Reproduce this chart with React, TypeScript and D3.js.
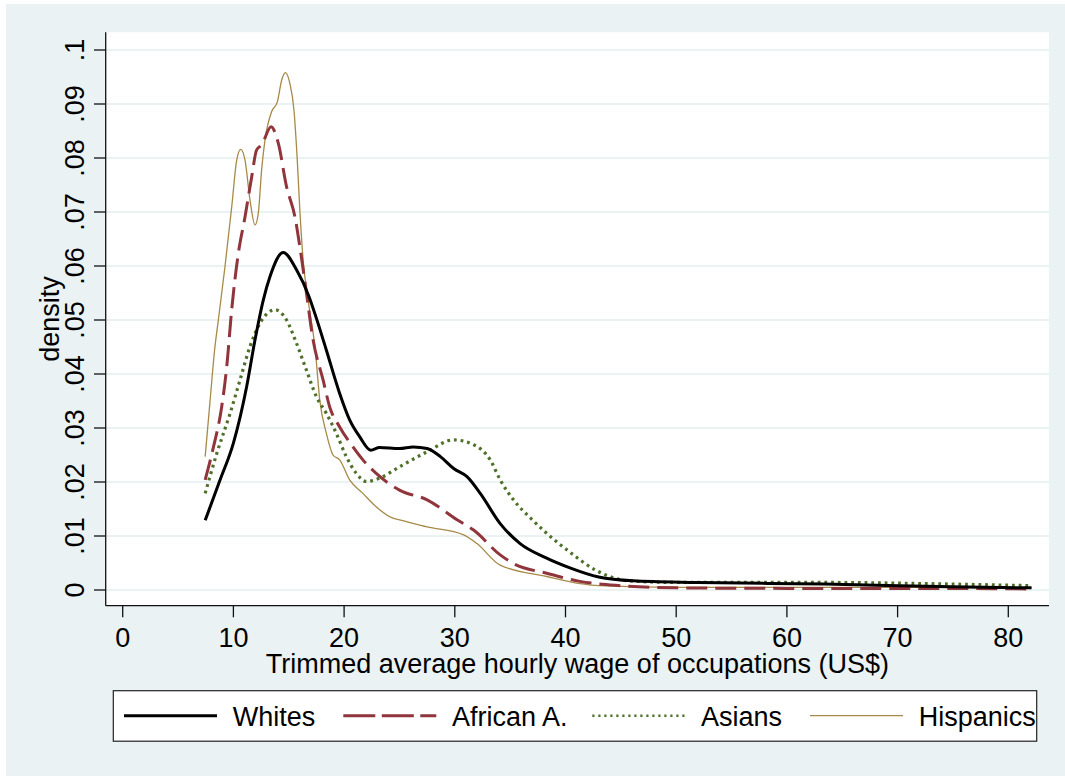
import React from "react";
import * as d3 from "d3";

// Kernel density estimates of the trimmed average hourly wage (US$) by group.
// Each point is [wage, density].
const whites: [number, number][] = [
  [7.45, 0.0129], [8.8, 0.0204], [10.0, 0.0272], [11.2, 0.0377], [11.95, 0.0463],
  [12.7, 0.0537], [13.3, 0.058], [14.5, 0.0625], [15.7, 0.0593], [16.8, 0.0545],
  [17.5, 0.0503], [18.4, 0.0444], [19.6, 0.0364], [20.5, 0.0315], [21.4, 0.0284],
  [22.4, 0.0259], [23.2, 0.0264], [25.0, 0.0262], [26.25, 0.0265], [27.5, 0.0262],
  [28.7, 0.0247], [29.9, 0.0225], [31.1, 0.021], [32.3, 0.0179], [34.1, 0.0123],
  [35.9, 0.0086], [38.2, 0.006], [40.4, 0.0041], [43.0, 0.0024], [46.1, 0.0017],
  [51.9, 0.0014], [63.4, 0.0011], [74.9, 0.0006], [82.1, 0.0004],
];

const africanAmericans: [number, number][] = [
  [7.45, 0.0204], [8.2, 0.0265], [8.94, 0.0339], [9.4, 0.0414], [9.85, 0.052],
  [10.45, 0.0624], [11.05, 0.0691], [11.65, 0.0765], [12.1, 0.0815], [12.55, 0.0824],
  [13.4, 0.0858], [14.06, 0.0827], [14.8, 0.0747], [15.56, 0.0691], [16.0, 0.0636],
  [16.5, 0.0565], [17.2, 0.0463], [18.1, 0.0389], [18.7, 0.0339], [19.6, 0.0302],
  [20.8, 0.0265], [21.7, 0.0241], [22.9, 0.0216], [25.0, 0.0185], [27.5, 0.0167],
  [30.2, 0.013], [31.7, 0.0111], [34.1, 0.0065], [35.3, 0.0049], [38.3, 0.0031],
  [41.3, 0.0016], [45.0, 0.0008], [50.0, 0.0004], [60.0, 0.0003], [70.0, 0.0003],
  [82.1, 0.0002],
];

const asians: [number, number][] = [
  [7.45, 0.0179], [8.5, 0.0253], [9.7, 0.0327], [10.6, 0.0389], [11.5, 0.0451],
  [12.4, 0.0494], [13.76, 0.0519], [14.8, 0.05], [15.7, 0.0457], [16.6, 0.0407],
  [17.5, 0.0358], [18.4, 0.0327], [19.3, 0.029], [20.2, 0.0247], [21.1, 0.0216],
  [22.0, 0.0201], [23.2, 0.0207], [25.0, 0.0228], [27.5, 0.0256], [29.9, 0.0278],
  [31.7, 0.0269], [33.2, 0.0241], [34.1, 0.0204], [35.3, 0.0167], [37.0, 0.013],
  [38.3, 0.0105], [40.4, 0.007], [42.7, 0.0037], [45.7, 0.0017], [50.0, 0.0014],
  [63.4, 0.0014], [74.8, 0.0011], [82.1, 0.0008],
];

const hispanics: [number, number][] = [
  [7.45, 0.0247], [7.9, 0.0352], [8.3, 0.0444], [8.64, 0.05], [9.24, 0.0599],
  [9.85, 0.071], [10.3, 0.0796], [10.66, 0.0816], [11.05, 0.0796], [11.5, 0.0722],
  [11.95, 0.0676], [12.25, 0.0698], [12.55, 0.0778], [12.85, 0.0833], [13.46, 0.0886],
  [13.97, 0.0904], [14.36, 0.0944], [14.69, 0.0958], [15.1, 0.0938], [15.47, 0.0889],
  [15.77, 0.0796], [16.0, 0.0704], [16.3, 0.0611], [16.75, 0.0537], [17.4, 0.0444],
  [17.8, 0.0352], [18.4, 0.029], [19.0, 0.025], [19.6, 0.0241], [20.5, 0.0204],
  [21.7, 0.0179], [22.9, 0.0154], [24.4, 0.0133], [25.0, 0.013], [27.5, 0.0117],
  [30.8, 0.0102], [32.0, 0.0086], [34.1, 0.0046], [38.3, 0.0025], [41.3, 0.0012],
  [43.0, 0.0008], [50.0, 0.0005], [60.0, 0.0005], [70.0, 0.0005], [82.1, 0.0004],
];

const groupNames = ["Whites", "African A.", "Asians", "Hispanics"];
const xTicks = [0, 10, 20, 30, 40, 50, 60, 70, 80];
const yTicks = [0, 0.01, 0.02, 0.03, 0.04, 0.05, 0.06, 0.07, 0.08, 0.09, 0.1];
const xTitle = "Trimmed average hourly wage of occupations (US$)";
const yTitle = "density";

type LineStyle = { color: string; width: number; dash?: string; legendDash?: string; legendWidth?: number };

const styles: LineStyle[] = [
  { color: "#000000", width: 3 },
  { color: "#90353B", width: 3, dash: "21 8", legendDash: "32 6.5" },
  { color: "#4F7029", width: 3.2, dash: "2.8 3.9", legendDash: "2.2 3.8", legendWidth: 2.4 },
  { color: "#A68A47", width: 1.3 },
];

const W = 1065;
const H = 776;
const plot = { left: 105.7, top: 32.3, right: 1049, bottom: 605.7 };
const FONT = "'Liberation Sans', Arial, Helvetica, sans-serif";
const FS = 27;

export default function App() {
  const x = d3.scaleLinear().domain([0, 80]).range([122.7, 1008.3]);
  const y = d3.scaleLinear().domain([0, 0.1]).range([590, 50]);

  const line = d3
    .line<[number, number]>()
    .x((d) => x(d[0]))
    .y((d) => y(d[1]))
    .curve(d3.curveMonotoneX);

  const series = [whites, africanAmericans, asians, hispanics];

  // legend row layout: key start positions, key length, gap to label
  const legendKeyX = [124, 343.3, 592.3, 810];
  const keyLen = 93;
  const labelGap = 108.7;
  const legendBox = { x: 113.3, y: 690.7, w: 923.4, h: 50.5 };
  const legendMidY = 715.7;

  return (
    <svg
      width={W}
      height={H}
      viewBox={`0 0 ${W} ${H}`}
      style={{ position: "absolute", left: 0, top: 0, display: "block" }}
      fontFamily={FONT}
    >
      <rect x={0} y={0} width={W} height={H} fill="#ffffff" />
      <rect x={6} y={4} width={W - 6} height={H - 4} fill="#EAF2F3" />
      <rect
        x={plot.left}
        y={plot.top}
        width={plot.right - plot.left}
        height={plot.bottom - plot.top}
        fill="#ffffff"
      />

      {/* horizontal grid */}
      {yTicks.map((t) => (
        <line
          key={`g${t}`}
          x1={plot.left}
          x2={plot.right}
          y1={y(t)}
          y2={y(t)}
          stroke="#EAF2F3"
          strokeWidth={1.8}
        />
      ))}

      {/* density curves, drawn back to front */}
      {[3, 2, 1, 0].map((i) => (
        <path
          key={groupNames[i]}
          d={line(series[i]) ?? ""}
          fill="none"
          stroke={styles[i].color}
          strokeWidth={styles[i].width}
          strokeDasharray={styles[i].dash}
          strokeLinejoin="round"
        />
      ))}

      {/* axes */}
      <line x1={plot.left} x2={plot.left} y1={plot.top} y2={plot.bottom} stroke="#111" strokeWidth={1.3} />
      <line x1={plot.left} x2={plot.right} y1={plot.bottom} y2={plot.bottom} stroke="#111" strokeWidth={1.3} />

      {yTicks.map((t) => (
        <g key={`yt${t}`}>
          <line x1={94} x2={plot.left} y1={y(t)} y2={y(t)} stroke="#111" strokeWidth={1.3} />
          <text
            transform={`translate(83.5,${y(t)}) rotate(-90)`}
            textAnchor="middle"
            fontSize={FS}
            fill="#000"
          >
            {d3.format("~g")(t).replace(/^0\./, ".")}
          </text>
        </g>
      ))}

      {xTicks.map((t) => (
        <g key={`xt${t}`}>
          <line x1={x(t)} x2={x(t)} y1={plot.bottom} y2={617.3} stroke="#111" strokeWidth={1.3} />
          <text x={x(t)} y={647} textAnchor="middle" fontSize={FS} fill="#000">
            {t}
          </text>
        </g>
      ))}

      <text x={(plot.left + plot.right) / 2} y={672.5} textAnchor="middle" fontSize={FS} fill="#000">
        {xTitle}
      </text>
      <text
        transform={`translate(58.5,${(plot.top + plot.bottom) / 2}) rotate(-90)`}
        textAnchor="middle"
        fontSize={FS}
        fill="#000"
      >
        {yTitle}
      </text>

      {/* legend */}
      <rect
        x={legendBox.x}
        y={legendBox.y}
        width={legendBox.w}
        height={legendBox.h}
        fill="#ffffff"
        stroke="#222"
        strokeWidth={1.2}
      />
      {groupNames.map((name, i) => (
        <g key={`lg${name}`}>
          <line
            x1={legendKeyX[i]}
            x2={legendKeyX[i] + keyLen}
            y1={legendMidY}
            y2={legendMidY}
            stroke={styles[i].color}
            strokeWidth={styles[i].legendWidth ?? styles[i].width}
            strokeDasharray={styles[i].legendDash}
          />
          <text x={legendKeyX[i] + labelGap} y={725.5} fontSize={FS} fill="#000">
            {name}
          </text>
        </g>
      ))}
    </svg>
  );
}
